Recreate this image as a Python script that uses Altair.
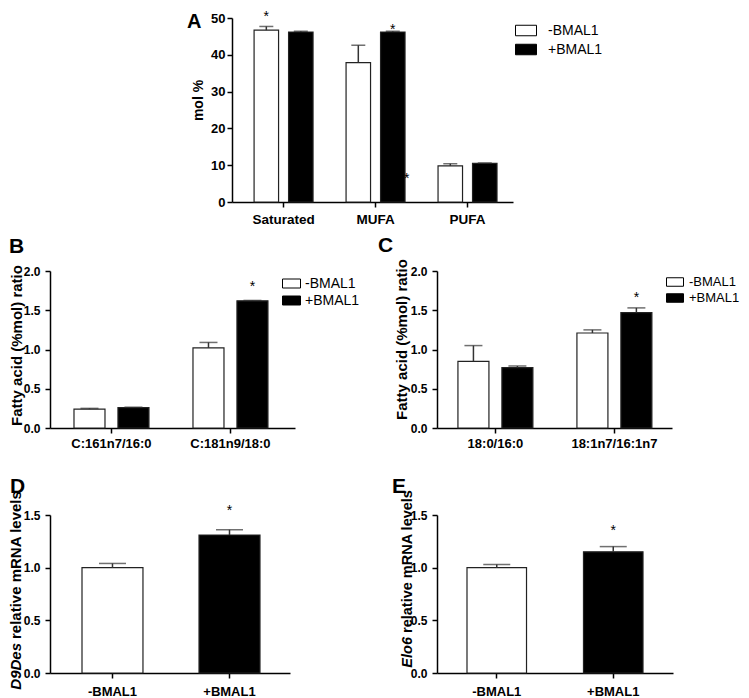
import altair as alt
import pandas as pd

FONT = "Liberation Sans"
GROUPS = ["-BMAL1", "+BMAL1"]
COLORS = ["white", "black"]
LEGEND_SYMBOL = "M-1,-0.5H1V0.5H-1Z"

# ---------------- Panel A : mol % ----------------
a_categories = ["Saturated", "MUFA", "PUFA"]
a_minus = [46.7, 37.9, 9.8]
a_minus_top = [47.7, 42.6, 10.4]
a_plus = [46.2, 46.2, 10.5]
a_plus_top = [46.4, 46.4, 10.6]
a_star_categories = ["Saturated", "MUFA"]
a_star_groups = ["-BMAL1", "+BMAL1"]
a_star_y = [51.1, 47.6]
a_extra_star_categories = ["MUFA"]
a_extra_star_groups = ["+BMAL1"]
a_extra_star_y = [7.1]
a_yticks = [0, 10, 20, 30, 40, 50]

# ---------------- Panel B ----------------
b_categories = ["C:161n7/16:0", "C:181n9/18:0"]
b_minus = [0.24, 1.02]
b_minus_top = [0.25, 1.09]
b_plus = [0.26, 1.62]
b_plus_top = [0.265, 1.625]
b_star_categories = ["C:181n9/18:0"]
b_star_groups = ["+BMAL1"]
b_star_y = [1.83]

# ---------------- Panel C ----------------
c_categories = ["18:0/16:0", "18:1n7/16:1n7"]
c_minus = [0.85, 1.21]
c_minus_top = [1.05, 1.25]
c_plus = [0.77, 1.47]
c_plus_top = [0.79, 1.53]
c_star_categories = ["18:1n7/16:1n7"]
c_star_groups = ["+BMAL1"]
c_star_y = [1.69]
bc_yticks = [0.0, 0.5, 1.0, 1.5, 2.0]

# ---------------- Panels D / E ----------------
d_values = [1.00, 1.31]
d_tops = [1.04, 1.36]
d_star_y = [1.57]
e_values = [1.00, 1.15]
e_tops = [1.03, 1.20]
e_star_y = [1.38]
de_yticks = [0.0, 0.5, 1.0, 1.5]


def grouped_df(cats, minus, minus_top, plus, plus_top):
    rows = []
    for i, c in enumerate(cats):
        rows.append({"category": c, "group": GROUPS[0], "value": minus[i], "top": minus_top[i]})
        rows.append({"category": c, "group": GROUPS[1], "value": plus[i], "top": plus_top[i]})
    return pd.DataFrame(rows)


def letter(text, x, y, size=21):
    return alt.Chart(pd.DataFrame({"t": [text]})).mark_text(
        align="left", baseline="alphabetic", font=FONT, fontSize=size,
        fontWeight="bold", color="black", fill="black"
    ).encode(x=alt.value(x), y=alt.value(y), text="t:N")


def star_mark(dx=0):
    return dict(text="*", font=FONT, fontSize=14, color="black", fill="black",
                baseline="middle", dy=3, dx=dx)


def y_axis_def(yticks, yfmt, **kw):
    return alt.Axis(values=yticks, tickCount=len(yticks), format=yfmt, tickSize=5,
                    labelOverlap=False, labelFontWeight="bold", **kw)


def grouped_panel(df, cats, stars, ydomain, yticks, yfmt, yaxis_kw, xscale_kw,
                  offset_pad, cap, legend_kw, width, height, letter_spec,
                  xlabel_size, xlabel_pad, extra_star=None, extra_dx=14):
    xo = alt.XOffset("group:N", sort=GROUPS,
                     scale=alt.Scale(paddingInner=offset_pad, paddingOuter=0))
    xo_plain = alt.XOffset("group:N", sort=GROUPS)
    x_axis = alt.X("category:N", sort=cats,
                   scale=alt.Scale(round=False, **xscale_kw),
                   axis=alt.Axis(title=None, labelAngle=0, labelFontSize=xlabel_size,
                                 labelPadding=xlabel_pad, tickSize=5,
                                 labelFontWeight="bold"))
    x_plain = alt.X("category:N", sort=cats)
    yscale = alt.Scale(domain=ydomain, nice=False)
    y_axis = alt.Y("value:Q", scale=yscale,
                   axis=y_axis_def(yticks, yfmt, titleFontWeight="bold", **yaxis_kw))

    base = alt.Chart(df)
    bars = base.mark_bar(stroke="#222222", strokeWidth=1.2).encode(
        x=x_axis, xOffset=xo, y=y_axis,
        color=alt.Color("group:N", sort=GROUPS,
                        scale=alt.Scale(domain=GROUPS, range=COLORS),
                        legend=alt.Legend(orient="none", title=None,
                                          symbolType=LEGEND_SYMBOL,
                                          symbolStrokeColor="black",
                                          symbolStrokeWidth=1,
                                          labelFont=FONT, labelColor="black",
                                          padding=0, **legend_kw)),
    )
    stems = base.mark_rule(color="#333333", strokeWidth=1.5).encode(
        x=x_plain, xOffset=xo_plain, y=alt.Y("value:Q"), y2="top:Q")
    caps = base.mark_tick(color="#333333", thickness=1.5, size=cap).encode(
        x=x_plain, xOffset=xo_plain, y=alt.Y("top:Q"))
    star_layer = alt.Chart(stars).mark_text(**star_mark()).encode(
        x=x_plain, xOffset=xo_plain, y=alt.Y("y:Q"))
    layers = [bars, stems, caps, star_layer]
    if extra_star is not None:
        layers.append(alt.Chart(extra_star).mark_text(**star_mark(extra_dx)).encode(
            x=x_plain, xOffset=xo_plain, y=alt.Y("y:Q")))
    layers.append(letter(*letter_spec))
    return alt.layer(*layers).properties(width=width, height=height)


def single_panel(values, tops, star_y, xscale_kw, cap, width, height, yrange,
                 letter_spec, title_italic, title_rest, title_x, title_y, title_size):
    df = pd.DataFrame({"group": GROUPS, "value": values, "top": tops})
    stars = pd.DataFrame({"group": [GROUPS[1]], "y": star_y})
    x_axis = alt.X("group:N", sort=GROUPS,
                   scale=alt.Scale(round=False, **xscale_kw),
                   axis=alt.Axis(title=None, labelAngle=0, labelFontSize=13,
                                 labelPadding=7, tickSize=5, labelFontWeight="bold"))
    x_plain = alt.X("group:N", sort=GROUPS)
    yscale = alt.Scale(domain=[0, 1.5], range=yrange, nice=False)
    base = alt.Chart(df)
    bars = base.mark_bar(stroke="#222222", strokeWidth=1.2).encode(
        x=x_axis,
        y=alt.Y("value:Q", scale=yscale,
                axis=y_axis_def(de_yticks, ".1f", title=None,
                                labelFontSize=12, labelPadding=5)),
        color=alt.Color("group:N", sort=GROUPS,
                        scale=alt.Scale(domain=GROUPS, range=COLORS), legend=None),
    )
    stems = base.mark_rule(color="#333333", strokeWidth=1.5).encode(
        x=x_plain, y=alt.Y("value:Q"), y2="top:Q")
    caps = base.mark_tick(color="#333333", thickness=1.5, size=cap).encode(
        x=x_plain, y=alt.Y("top:Q"))
    star_layer = alt.Chart(stars).mark_text(**star_mark()).encode(
        x=x_plain, y=alt.Y("y:Q"))
    t_it = alt.Chart(pd.DataFrame({"t": [title_italic]})).mark_text(
        angle=270, align="right", baseline="middle", font=FONT, fontSize=title_size,
        fontWeight="bold", fontStyle="italic", color="black", fill="black"
    ).encode(x=alt.value(title_x), y=alt.value(title_y), text="t:N")
    t_rest = alt.Chart(pd.DataFrame({"t": [title_rest]})).mark_text(
        angle=270, align="left", baseline="middle", font=FONT, fontSize=title_size,
        fontWeight="bold", color="black", fill="black"
    ).encode(x=alt.value(title_x), y=alt.value(title_y - 4), text="t:N")
    return alt.layer(bars, stems, caps, star_layer, t_it, t_rest,
                     letter(*letter_spec)).properties(width=width, height=height)


# Panel A sits in the right-hand column of the grid; its plot area is pulled
# left by A_SHIFT pixels so that it is centred over the page like the original.
A_SHIFT = 205

panel_a = grouped_panel(
    grouped_df(a_categories, a_minus, a_minus_top, a_plus, a_plus_top),
    a_categories,
    pd.DataFrame({"category": a_star_categories, "group": a_star_groups, "y": a_star_y}),
    [0, 50], a_yticks, "d",
    dict(title="mol %", titleFontSize=14, titleAngle=270, titleAlign="center",
         titleBaseline="middle", titleX=-34, titleY=82, labelFontSize=13,
         labelPadding=2, offset=A_SHIFT),
    dict(paddingInner=0.359, paddingOuter=0.207, align=0.58,
         range=[-A_SHIFT, 281 - A_SHIFT]),
    0.29, 14,
    dict(legendX=283 - A_SHIFT, legendY=1.5, symbolSize=441, labelFontSize=14,
         labelOffset=11, rowPadding=-1),
    281 - A_SHIFT, 184, ("A", -45 - A_SHIFT, 10, 20), 13.5, 5,
    extra_star=pd.DataFrame({"category": a_extra_star_categories,
                             "group": a_extra_star_groups, "y": a_extra_star_y}),
)

panel_b = grouped_panel(
    grouped_df(b_categories, b_minus, b_minus_top, b_plus, b_plus_top),
    b_categories,
    pd.DataFrame({"category": b_star_categories, "group": b_star_groups, "y": b_star_y}),
    [0, 2], bc_yticks, ".1f",
    dict(title="Fatty acid (%mol) ratio", titleFontSize=15, titleAngle=270,
         titleAlign="center", titleBaseline="middle", titleX=-34, titleY=74,
         labelFontSize=12, labelPadding=5),
    dict(paddingInner=0.37, paddingOuter=0.2145, align=0.47),
    0.295, 18,
    dict(legendX=232, legendY=3, symbolSize=324, labelFontSize=14,
         labelOffset=4, rowPadding=-1),
    245, 157, ("B", -41, -18), 13, 4,
)

panel_c = grouped_panel(
    grouped_df(c_categories, c_minus, c_minus_top, c_plus, c_plus_top),
    c_categories,
    pd.DataFrame({"category": c_star_categories, "group": c_star_groups, "y": c_star_y}),
    [0, 2], bc_yticks, ".1f",
    dict(title="Fatty acid (%mol) ratio", titleFontSize=15, titleAngle=270,
         titleAlign="center", titleBaseline="middle", titleX=-36, titleY=68,
         labelFontSize=12, labelPadding=5),
    dict(paddingInner=0.37, paddingOuter=0.1725, align=0.51),
    0.295, 18,
    dict(legendX=229, legendY=2, symbolSize=289, labelFontSize=13,
         labelOffset=5, rowPadding=0),
    235, 157, ("C", -59, -19), 13, 4,
)

panel_d = single_panel(
    d_values, d_tops, d_star_y,
    dict(paddingInner=0.479, paddingOuter=0.265, align=0.516, range=[0, 240]),
    27, 245, 176, [176, 18], ("D", -40, -4), "D9Des", "relative mRNA levels",
    -34, 146, 15,
)

panel_e = single_panel(
    e_values, e_tops, e_star_y,
    dict(paddingInner=0.489, paddingOuter=0.2575, align=0.5),
    27, 236, 176, [176, 18], ("E", -45, -4), "Elo6", "relative mRNA levels",
    -29, 140, 14.5,
)

spacer_values = [0]
spacer = alt.Chart(pd.DataFrame({"v": spacer_values})).mark_point(opacity=0).encode(
    x=alt.X("v:Q", axis=None), y=alt.Y("v:Q", axis=None)
).properties(width=1, height=1)

chart = alt.concat(
    spacer, panel_a, panel_b, panel_c, panel_d, panel_e,
    columns=2,
    spacing=alt.RowColnumber(row=69, column=142),
    bounds="flush",
).resolve_scale(
    color="independent", xOffset="independent"
).resolve_legend(
    color="independent"
).properties(
    padding={"left": 0, "top": 1, "right": 0, "bottom": 0}
).configure_view(
    stroke=None
).configure_axis(
    grid=False,
    domainColor="black", domainWidth=1.5,
    tickColor="black", tickWidth=1.5,
    labelFont=FONT, labelFontWeight="bold", labelColor="black",
    titleFont=FONT, titleFontWeight="bold", titleColor="black",
)

chart.save("out.html", embed_options={"renderer": "svg", "actions": False})
